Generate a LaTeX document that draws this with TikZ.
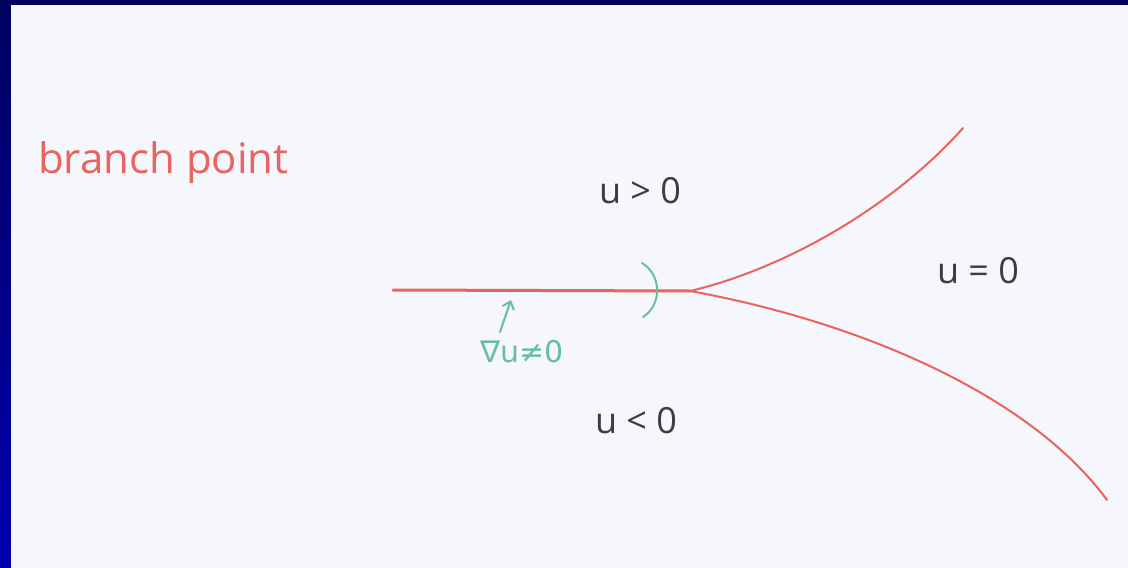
\documentclass[tikz,border=0pt]{standalone}
\usepackage{fontspec}
\setmainfont{Open Sans}
\newfontfamily\symfont{DejaVu Sans}
\usetikzlibrary{arrows.meta}
\definecolor{navytop}{RGB}{0,0,95}
\definecolor{navybot}{RGB}{0,0,175}
\definecolor{paper}{RGB}{246,246,253}
\definecolor{redpen}{RGB}{232,100,92}
\definecolor{greenpen}{RGB}{105,190,160}
\definecolor{ink}{RGB}{60,60,66}
\tikzset{
  redline/.style={draw=redpen, line cap=round, line join=round},
  greenline/.style={draw=greenpen, line width=2pt, line cap=round},
  label/.style={text=ink, font=\fontsize{36}{40}\selectfont, inner sep=0pt},
}
\begin{document}
\begin{tikzpicture}[x=1pt,y=-1pt]
  \useasboundingbox (0,0) rectangle (1128,568);
  \shade[top color=navytop, bottom color=navybot] (0,0) rectangle (1128,568);
  \fill[paper] (11,5) rectangle (1128,568);
  % labels
  \node[label, text=redpen, anchor=base west, font=\fontsize{42}{46}\selectfont] (bp) at (38,173) {branch point};
  \node[label, anchor=base] (up) at (640,203) {u > 0};
  \node[label, anchor=base] (dn) at (636,433) {u < 0};
  \node[label, anchor=base] (eq) at (978,283) {u = 0};
  \node[label, text=greenpen, anchor=base, font=\symfont\fontsize{30}{34}\selectfont] (gr) at (522,362) {∇u≠0};
  % curve points
  \coordinate (L) at (393,290);
  \coordinate (J) at (690,291);
  \coordinate (T) at (963,128);
  \coordinate (B) at (1107,500);
  \draw[redline, line width=3pt] (L) -- (J);
  \draw[redline, line width=2pt] (J) .. controls (780,270) and (890,210) .. (T);
  \draw[redline, line width=2pt] (J) .. controls (860,322) and (1030,395) .. (B);
  % green marks
  \coordinate (a1) at (642,263);
  \coordinate (a2) at (643,317);
  \draw[greenline] (a1) .. controls (662,275) and (662,305) .. (a2);
  \coordinate (s) at (500,332);
  \coordinate (e) at (511,300);
  \draw[greenline, -{Straight Barb[length=7pt,width=12pt]}] (s) -- (e);
\end{tikzpicture}
\end{document}
